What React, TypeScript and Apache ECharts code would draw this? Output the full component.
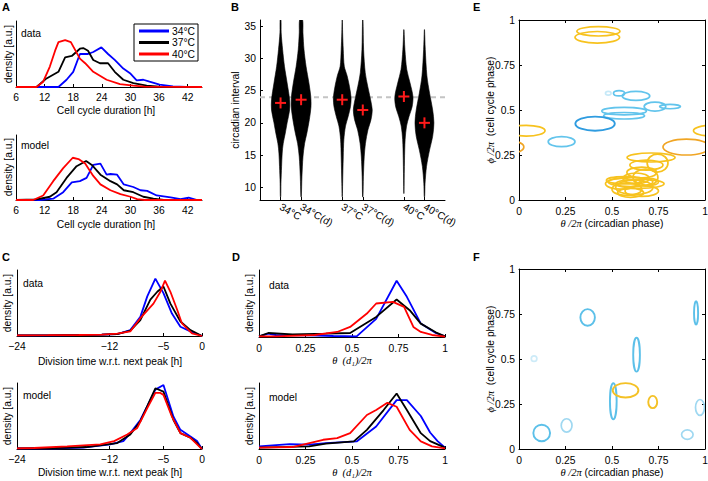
import React, { useEffect, useRef } from "react";
import * as echarts from "echarts";

const FONT = "'Liberation Sans', Arial, Helvetica, sans-serif";
const SERIF = "'Liberation Serif', 'DejaVu Serif', serif";

const SERIES_NAMES = ["34°C", "37°C", "40°C"];
const SERIES_COLORS = ["#0000ff", "#000000", "#ff0000"];

// Panel A – cell cycle duration densities [hours, density]
const aData34 = [[6,0],[14.9,0],[16.6,0.11],[18,0.23],[19.4,0.5],[21.1,0.5],[22.2,0.53],[23.9,0.6],[25.3,0.5],[26.7,0.41],[28.5,0.28],[29.9,0.21],[31.3,0.1],[32.7,0.11],[34,0.08],[36.1,0.035],[38.9,0.01],[41.7,0],[45,0]];
const aData37 = [[6,0],[10.3,0],[12.4,0.13],[14.9,0.23],[16.3,0.45],[17.7,0.47],[19.4,0.58],[20.1,0.59],[21.1,0.55],[22.2,0.41],[23.6,0.36],[25.3,0.36],[26.7,0.23],[28.5,0.11],[30.6,0.06],[33.4,0.02],[36,0.005],[45,0]];
const aData40 = [[6,0],[10.3,0],[11.7,0.08],[13.1,0.31],[14.2,0.55],[14.9,0.68],[16.3,0.71],[17.5,0.68],[19.4,0.43],[20.5,0.36],[22.2,0.23],[25,0.11],[27.8,0.045],[30.6,0.02],[33,0.005],[45,0]];
const aModel34 = [[6,0],[11,0],[13.8,0.02],[15.9,0.12],[17.7,0.27],[19.4,0.29],[20.8,0.34],[22.2,0.54],[23.7,0.56],[25,0.39],[25.8,0.4],[27.2,0.39],[28.6,0.24],[30.6,0.2],[32.1,0.15],[33.5,0.14],[35.5,0.07],[38.4,0.04],[40.5,0.015],[42.2,0.035],[44,0],[45,0]];
const aModel37 = [[6,0],[10.3,0.01],[13.1,0.05],[14.5,0.12],[16.6,0.34],[18.7,0.52],[20.7,0.6],[21.9,0.54],[23.7,0.39],[25.8,0.29],[27.2,0.24],[28.6,0.15],[30.6,0.12],[32.7,0.05],[34.8,0.02],[37,0],[45,0]];
const aModel40 = [[6,0],[9.6,0],[11.7,0.07],[13.8,0.29],[15.9,0.49],[17.9,0.65],[19.1,0.63],[20.5,0.56],[22.2,0.37],[23.7,0.24],[25.8,0.15],[27.9,0.09],[30,0.05],[31.4,0.015],[33,0],[45,0]];
const aTicks = [6, 12, 18, 24, 30, 36, 42];

// Panel B – violins
const violinPos = [1, 2, 4, 5, 7, 8];
const violinLabels = ["34°C", "34°C(d)", "37°C", "37°C(d)", "40°C", "40°C(d)"];
const violinMeans = [23.1, 23.6, 23.6, 22.0, 24.1, 20.0];
const v34 = [[36.1,0.02],[34.0,0.03],[31.4,0.1],[28.8,0.19],[26.2,0.32],[23.6,0.44],[22.0,0.44],[20.0,0.32],[18.4,0.23],[16.8,0.13],[15.3,0.08],[13.2,0.05],[10.6,0.02],[8.5,0.01]];
const v34d = [[36.1,0.07],[34,0.09],[31.4,0.14],[28.8,0.24],[26.2,0.38],[24.1,0.47],[22.5,0.48],[20.5,0.4],[18.4,0.28],[16.8,0.17],[14.7,0.09],[11.6,0.04],[8.5,0.01]];
const v37 = [[36.1,0.005],[34,0.02],[31.4,0.05],[28.8,0.1],[27.3,0.24],[25.7,0.35],[23.9,0.43],[22.5,0.4],[21,0.29],[19.5,0.16],[17.4,0.08],[14.7,0.05],[10.6,0.02],[8.5,0.005]];
const v37d = [[36.1,0.01],[31.4,0.04],[27.8,0.12],[25.7,0.24],[23.6,0.38],[22.0,0.46],[20.5,0.4],[18.9,0.25],[16.8,0.13],[14.7,0.07],[11.6,0.03],[8.5,0.01]];
const v40 = [[34.5,0.005],[31.4,0.05],[28.3,0.14],[26.2,0.3],[24.1,0.44],[22.5,0.4],[21,0.25],[19.5,0.13],[17.4,0.06],[14.2,0.03],[10.1,0.01],[9,0.002]];
const v40d = [[34.5,0.005],[31.4,0.04],[27.3,0.12],[24.6,0.25],[22,0.4],[20,0.46],[17.9,0.4],[15.8,0.25],[13.2,0.1],[10.6,0.03],[8.5,0.01]];
const violinProfiles = [v34, v34d, v37, v37d, v40, v40d];
const bTicks = [10, 15, 20, 25, 30, 35];
const bReference = 24;

// Panel C – division time w.r.t. next peak [hours, density]
const cData34 = [[-24,0.01],[-20,0.01],[-16,0.015],[-13,0.02],[-11,0.03],[-9.3,0.09],[-8,0.29],[-7.1,0.6],[-6.05,0.87],[-5,0.65],[-3.9,0.34],[-2.8,0.14],[-1.5,0.07],[0,0]];
const cData37 = [[-24,0.01],[-20,0.01],[-16,0.015],[-13,0.02],[-11,0.03],[-9.3,0.08],[-8,0.24],[-6.7,0.55],[-5.8,0.67],[-5,0.75],[-4.1,0.49],[-2.8,0.22],[-1.5,0.09],[0,0]];
const cData40 = [[-24,0.01],[-20,0.012],[-16,0.015],[-13,0.02],[-11,0.035],[-9.3,0.07],[-8,0.27],[-6.3,0.49],[-5.4,0.67],[-4.8,0.84],[-4.1,0.67],[-3.2,0.39],[-2.6,0.19],[-1.3,0.04],[0,0]];
const cModel34 = [[-24,0.01],[-19,0.01],[-15.4,0.02],[-11.9,0.07],[-10.2,0.12],[-9.3,0.24],[-8,0.44],[-7.1,0.65],[-6.05,0.9],[-5,0.97],[-3.7,0.49],[-2.8,0.29],[-1.5,0.19],[-0.65,0.12],[0,0]];
const cModel37 = [[-24,0.01],[-19,0.015],[-15,0.03],[-11,0.09],[-9.3,0.22],[-8,0.42],[-7.1,0.65],[-6.05,0.92],[-5,0.87],[-3.7,0.44],[-2.8,0.24],[-1.5,0.17],[-0.65,0.09],[0,0]];
const cModel40 = [[-24,0.01],[-21.8,0.015],[-17.5,0.04],[-13.2,0.07],[-11.4,0.12],[-9.7,0.22],[-8.4,0.32],[-7.1,0.62],[-6.05,0.85],[-5.4,0.85],[-5,0.82],[-3.9,0.49],[-2.8,0.24],[-1.5,0.17],[-0.2,0.02],[0,0]];
const cTicks = [-24, -12, -5, 0];

// Panel D – theta(d1)/2pi [phase, density]
const dData34 = [[0,0.01],[0.05,0.05],[0.09,0.03],[0.27,0.025],[0.4,0.015],[0.525,0.01],[0.63,0.27],[0.74,0.84],[0.795,0.6],[0.87,0.2],[0.95,0.06],[1,0.01]];
const dData37 = [[0,0.01],[0.05,0.06],[0.18,0.04],[0.36,0.05],[0.49,0.06],[0.63,0.3],[0.74,0.56],[0.81,0.4],[0.87,0.2],[0.95,0.07],[1,0.01]];
const dData40 = [[0,0.01],[0.09,0.01],[0.3,0.03],[0.42,0.075],[0.49,0.15],[0.58,0.35],[0.63,0.5],[0.72,0.525],[0.78,0.45],[0.83,0.15],[0.87,0.075],[0.93,0.03],[1,0.005]];
const dModel34 = [[0,0.04],[0.165,0.075],[0.27,0.065],[0.36,0.09],[0.525,0.115],[0.63,0.34],[0.74,0.74],[0.795,0.74],[0.87,0.5],[0.92,0.25],[0.96,0.12],[1,0.02]];
const dModel37 = [[0,0.02],[0.27,0.04],[0.36,0.08],[0.51,0.115],[0.58,0.29],[0.67,0.59],[0.74,0.84],[0.795,0.59],[0.87,0.24],[0.92,0.12],[1,0.02]];
const dModel40 = [[0,0.02],[0.18,0.03],[0.345,0.14],[0.42,0.165],[0.49,0.24],[0.58,0.515],[0.63,0.59],[0.69,0.7],[0.74,0.64],[0.81,0.29],[0.87,0.115],[0.93,0.04],[1,0.01]];

// Panel E – ellipses [cx, cy, rx, ry] in phase units
const eYellow = [[0.427,0.937,0.116,0.026],[0.421,0.904,0.12,0.032],[0.039,0.385,0.101,0.03],[1.039,0.385,0.101,0.03],[0.71,0.236,0.129,0.025],[0.685,0.194,0.089,0.028],[0.745,0.205,0.056,0.05],[0.66,0.153,0.08,0.03],[0.68,0.125,0.067,0.047],[0.55,0.09,0.085,0.03],[0.6,0.1,0.12,0.025],[0.62,0.07,0.1,0.04],[0.58,0.06,0.08,0.035],[0.65,0.09,0.13,0.025],[0.57,0.11,0.1,0.02],[0.66,0.05,0.09,0.03],[0.63,0.12,0.07,0.03],[0.6,0.04,0.07,0.025],[0.7,0.1,0.05,0.02]];
const eOrange = [[0.9,0.294,0.126,0.044],[-0.1,0.294,0.126,0.044]];
const eLightBlue = [[0.538,0.593,0.03,0.015],[0.629,0.578,0.074,0.025],[0.565,0.494,0.12,0.021],[0.565,0.468,0.11,0.018],[0.731,0.519,0.058,0.025],[0.812,0.519,0.056,0.012],[0.229,0.324,0.072,0.028]];
const ePaleBlue = [[0.48,0.593,0.015,0.01]];
const eDarkBlue = [[0.409,0.424,0.106,0.039]];

// Panel F – ellipses
const fBlue = [[0.122,0.089,0.045,0.046],[0.369,0.731,0.039,0.046],[0.632,0.524,0.018,0.094],[0.507,0.265,0.018,0.1],[0.952,0.756,0.011,0.065]];
const fLightBlue = [[0.256,0.131,0.029,0.037],[0.905,0.08,0.031,0.026],[0.973,0.231,0.024,0.044]];
const fPaleBlue = [[0.081,0.502,0.015,0.015]];
const fYellow = [[0.573,0.326,0.069,0.04],[0.719,0.261,0.024,0.034]];

const axisLine = { show: true, onZero: false, lineStyle: { color: "#000", width: 1 } };
const tick = { show: true, inside: true, length: 3, lineStyle: { color: "#000", width: 1 } };
const label = { color: "#000", fontSize: 10.3, fontFamily: FONT, margin: 5 };
const noSplit = { show: false };

function lineX(gridIndex: number, min: number, max: number, ticks: number[], fmt?: (v: number) => string) {
  return {
    type: "value", gridIndex, min, max, axisLine,
    axisTick: { ...tick, customValues: ticks },
    axisLabel: { ...label, customValues: ticks, formatter: fmt },
    splitLine: noSplit,
  };
}
function densityY(gridIndex: number) {
  return {
    type: "value", gridIndex, min: 0, max: 1, axisLine,
    axisTick: { show: false }, axisLabel: { show: false }, splitLine: noSplit,
  };
}
function phaseX(gridIndex: number, position: string, show: boolean) {
  return {
    type: "value", gridIndex, position, min: 0, max: 1, interval: 0.25, axisLine,
    axisTick: tick, axisLabel: show ? { ...label, margin: 6 } : { show: false }, splitLine: noSplit,
  };
}
function phaseY(gridIndex: number, position: string, show: boolean) {
  return {
    type: "value", gridIndex, position, min: 0, max: 1, interval: 0.25, axisLine,
    axisTick: tick, axisLabel: show ? { ...label, margin: 4 } : { show: false }, splitLine: noSplit,
  };
}
function lineSet(idx: number, sets: number[][][]) {
  return sets.map((d, k) => ({
    type: "line", name: SERIES_NAMES[k], xAxisIndex: idx, yAxisIndex: idx, data: d,
    showSymbol: false, symbol: "none", z: 2 + k,
    lineStyle: { width: 1.8, color: SERIES_COLORS[k] }, itemStyle: { color: SERIES_COLORS[k] },
  }));
}
function ellipses(xi: number, yi: number, data: number[][], color: string, width = 1.7) {
  return {
    type: "custom", xAxisIndex: xi, yAxisIndex: yi, clip: true, data,
    renderItem: (_p: any, api: any) => {
      const c = api.coord([api.value(0), api.value(1)]);
      const s = api.size([api.value(2), api.value(3)]);
      return {
        type: "ellipse",
        shape: { cx: c[0], cy: c[1], rx: s[0], ry: s[1] },
        style: { fill: "none", stroke: color, lineWidth: width },
      };
    },
  };
}

const minus = (v: number) => (v === 0 ? "0" : "\u2212" + Math.abs(v));

function txt(text: string, x: number, y: number, opts: any = {}) {
  const { rotate, align, font, rich } = opts;
  return {
    type: "text", x, y, rotation: rotate ? Math.PI / 2 : 0, silent: true,
    style: {
      text, fill: "#000", font: font || `10.3px ${FONT}`,
      textAlign: align || "left", textVerticalAlign: "middle", rich,
    },
  };
}

const mathRich = { m: { fontFamily: SERIF, fontStyle: "italic", fontSize: 10.5, fill: "#000" } };

function buildOption() {
  const grids = [
    { left: 16, top: 21, width: 186, height: 66 },
    { left: 16, top: 135, width: 186, height: 65 },
    { left: 260, top: 20, width: 185, height: 180 },
    { left: 17, top: 270, width: 185, height: 66 },
    { left: 17, top: 383, width: 185, height: 66 },
    { left: 259, top: 270, width: 186, height: 67 },
    { left: 259, top: 383, width: 186, height: 66 },
    { left: 519, top: 20, width: 186, height: 180 },
    { left: 519, top: 269, width: 186, height: 180 },
  ].map((g) => ({ ...g, show: false, containLabel: false, outerBoundsMode: "none" }));

  const xAxis = [
    lineX(0, 6, 45, aTicks),
    lineX(1, 6, 45, aTicks),
    {
      type: "value", gridIndex: 2, min: 0, max: 9, axisLine,
      axisTick: { ...tick, customValues: violinPos },
      axisLabel: {
        ...label, customValues: violinPos, rotate: -30, margin: 6,
        formatter: (v: number) => violinLabels[violinPos.indexOf(v)] || "",
      },
      splitLine: noSplit,
    },
    lineX(3, -24, 0, cTicks, minus),
    lineX(4, -24, 0, cTicks, minus),
    phaseX(5, "bottom", true),
    phaseX(6, "bottom", true),
    phaseX(7, "bottom", true),
    phaseX(7, "top", false),
    phaseX(8, "bottom", true),
    phaseX(8, "top", false),
  ];
  const yAxis = [
    densityY(0),
    densityY(1),
    {
      type: "value", gridIndex: 2, min: 8, max: 36, axisLine,
      axisTick: { ...tick, customValues: bTicks },
      axisLabel: { ...label, customValues: bTicks, margin: 4 },
      splitLine: noSplit,
    },
    densityY(3),
    densityY(4),
    densityY(5),
    densityY(6),
    phaseY(7, "left", true),
    phaseY(7, "right", false),
    phaseY(8, "left", true),
    phaseY(8, "right", false),
  ];

  const series: any[] = [
    ...lineSet(0, [aData34, aData37, aData40]),
    ...lineSet(1, [aModel34, aModel37, aModel40]),
    ...lineSet(3, [cData34, cData37, cData40]),
    ...lineSet(4, [cModel34, cModel37, cModel40]),
    ...lineSet(5, [dData34, dData37, dData40]),
    ...lineSet(6, [dModel34, dModel37, dModel40]),
    {
      type: "line", xAxisIndex: 2, yAxisIndex: 2, z: 1, showSymbol: false, symbol: "none",
      data: [[0, bReference], [9, bReference]],
      lineStyle: { color: "#c4c4c4", width: 2, type: [5, 4] },
    },
    {
      type: "custom", xAxisIndex: 2, yAxisIndex: 2, z: 2, clip: true,
      data: violinPos.map((p, i) => [p, i]),
      renderItem: (_p: any, api: any) => {
        const pos = api.value(0);
        const prof = violinProfiles[api.value(1)];
        const right = prof.map(([y, hw]) => api.coord([pos + hw, y]));
        const left = prof.slice().reverse().map(([y, hw]) => api.coord([pos - hw, y]));
        return {
          type: "polygon",
          shape: { points: [...right, ...left], smooth: 0.3 },
          style: { fill: "#000", stroke: "#000", lineWidth: 0.6 },
        };
      },
    },
    {
      type: "custom", xAxisIndex: 2, yAxisIndex: 2, z: 3,
      data: violinPos.map((p, i) => [p, violinMeans[i]]),
      renderItem: (_p: any, api: any) => {
        const c = api.coord([api.value(0), api.value(1)]);
        const h = 5.5;
        const st = { stroke: "#ff1a1a", lineWidth: 2 };
        return {
          type: "group",
          children: [
            { type: "line", shape: { x1: c[0] - h, y1: c[1], x2: c[0] + h, y2: c[1] }, style: st },
            { type: "line", shape: { x1: c[0], y1: c[1] - h, x2: c[0], y2: c[1] + h }, style: st },
          ],
        };
      },
    },
    ellipses(7, 7, eYellow, "#f7c21e"),
    ellipses(7, 7, eOrange, "#f0a524"),
    ellipses(7, 7, ePaleBlue, "#c6e9f8"),
    ellipses(7, 7, eLightBlue, "#62c4ec"),
    ellipses(7, 7, eDarkBlue, "#2f9ce0", 1.9),
    ellipses(9, 9, fPaleBlue, "#cdebf8"),
    ellipses(9, 9, fLightBlue, "#9fd8f1"),
    ellipses(9, 9, fBlue, "#5cc0e9", 1.9),
    ellipses(9, 9, fYellow, "#f4c125", 1.9),
  ];

  const bold = `bold 11px ${FONT}`;
  const graphic = [
    txt("A", 2, 7, { font: bold }),
    txt("B", 231, 7, { font: bold }),
    txt("C", 2, 257, { font: bold }),
    txt("D", 232, 257, { font: bold }),
    txt("E", 473, 7, { font: bold }),
    txt("F", 473, 257, { font: bold }),
    txt("data", 21, 33),
    txt("model", 21, 145),
    txt("data", 23, 283),
    txt("model", 23, 395),
    txt("data", 269, 285),
    txt("model", 269, 397),
    txt("density [a.u.]", 8, 54, { rotate: true, align: "center" }),
    txt("density [a.u.]", 8, 167, { rotate: true, align: "center" }),
    txt("density [a.u.]", 7, 303, { rotate: true, align: "center" }),
    txt("density [a.u.]", 7, 416, { rotate: true, align: "center" }),
    txt("density [a.u.]", 249, 303, { rotate: true, align: "center" }),
    txt("density [a.u.]", 249, 416, { rotate: true, align: "center" }),
    txt("Cell cycle duration [h]", 106, 110, { align: "center" }),
    txt("Cell cycle duration [h]", 106, 224, { align: "center" }),
    txt("circadian interval", 235, 110, { rotate: true, align: "center" }),
    txt("Division time w.r.t. next peak [h]", 110, 361, { align: "center" }),
    txt("Division time w.r.t. next peak [h]", 110, 472, { align: "center" }),
    txt("{m|θ  (d₁)/2π}", 352, 360, { align: "center", rich: mathRich }),
    txt("{m|θ  (d₁)/2π}", 352, 472, { align: "center", rich: mathRich }),
    txt("{m|θ /2π} (circadian phase)", 612, 223, { align: "center", rich: mathRich }),
    txt("{m|θ /2π} (circadian phase)", 612, 472, { align: "center", rich: mathRich }),
    txt("{m|ϕ /2π}  (cell cycle phase)", 490, 110, { rotate: true, align: "center", rich: mathRich }),
    txt("{m|ϕ /2π}  (cell cycle phase)", 490, 359, { rotate: true, align: "center", rich: mathRich }),
  ];

  return {
    animation: false,
    backgroundColor: "#fff",
    textStyle: { fontFamily: FONT },
    legend: {
      data: SERIES_NAMES,
      orient: "vertical",
      left: 134,
      top: 24,
      icon: "rect",
      itemWidth: 30,
      itemHeight: 3,
      itemGap: 1.5,
      padding: [2, 3, 2, 5],
      borderColor: "#000",
      borderWidth: 1,
      backgroundColor: "#fff",
      selectedMode: false,
      textStyle: { fontSize: 10.3, fontFamily: FONT, color: "#000", padding: [0, 0, 0, -2] },
    },
    grid: grids,
    xAxis,
    yAxis,
    series,
    graphic,
  };
}

export default function App() {
  const ref = useRef<HTMLDivElement>(null);
  useEffect(() => {
    if (!ref.current) return;
    const chart = echarts.init(ref.current, null, { renderer: "svg" });
    chart.setOption(buildOption() as any);
    return () => chart.dispose();
  }, []);
  return (
    <div
      ref={ref}
      style={{ position: "fixed", left: 0, top: 0, width: 708, height: 481, background: "#fff" }}
    />
  );
}
